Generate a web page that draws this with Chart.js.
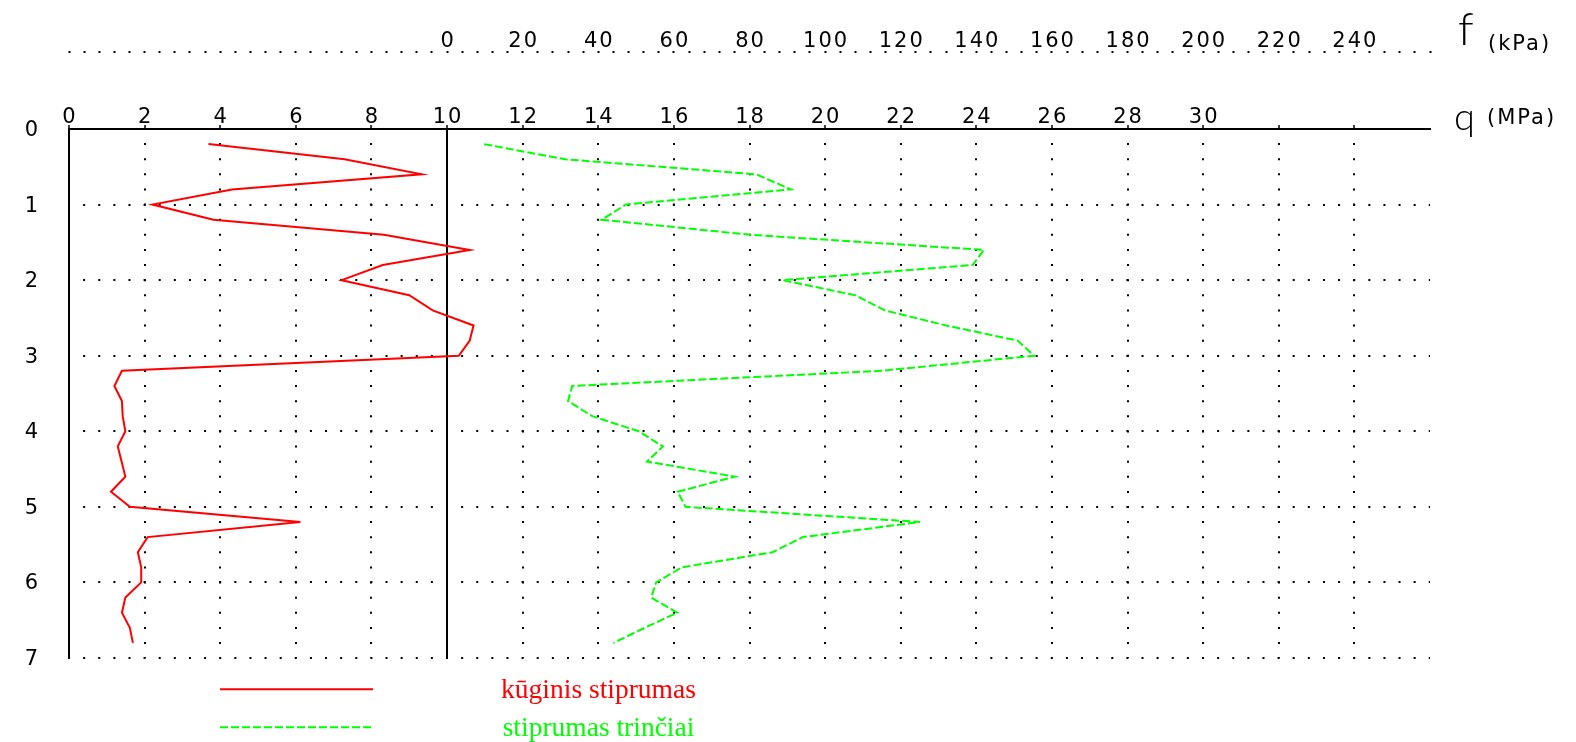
<!DOCTYPE html>
<html>
<head>
<meta charset="utf-8">
<script src="https://cdn.jsdelivr.net/npm/chart.js@4.4.1/dist/chart.umd.min.js"></script>
<style>
  html, body { margin: 0; padding: 0; background: #ffffff; }
  canvas { display: block; }
</style>
</head>
<body>
<canvas id="profile" width="1576" height="742"></canvas>
<script>
// Sounding depth, m (one reading every 0.2 m)
const depths = [0.2, 0.4, 0.6, 0.8, 1.0, 1.2, 1.4, 1.6, 1.8, 2.0, 2.2, 2.4, 2.6, 2.8, 3.0, 3.2, 3.4,
                3.6, 3.8, 4.0, 4.2, 4.4, 4.6, 4.8, 5.0, 5.2, 5.4, 5.6, 5.8, 6.0, 6.2, 6.4, 6.6, 6.8];

// Cone resistance q, MPa
const coneResistance = [3.69, 7.29, 9.33, 4.31, 2.21, 3.82, 8.33, 10.6, 8.30, 7.21, 9.0, 9.62, 10.7, 10.6,
                        10.31, 1.40, 1.20, 1.40, 1.42, 1.49, 1.29, 1.39, 1.49, 1.11, 1.61, 6.12, 2.08,
                        1.82, 1.91, 1.91, 1.49, 1.40, 1.61, 1.69];

// Sleeve friction f, kPa
const sleeveFriction = [9.8, 31.2, 81.8, 91.0, 47.3, 40.9, 80.2, 142.0, 139.0, 88.8, 108.0, 115.8, 132.0,
                        150.9, 155.3, 114.7, 33.1, 32.0, 38.4, 50.7, 57.1, 52.9, 76.1, 61.0, 63.1, 125.1,
                        94.1, 86.1, 62.1, 55.3, 54.0, 60.9, 52.3, 44.0];

// Labelled ticks
const depthLabels = [0, 1, 2, 3, 4, 5, 6, 7];
const qLabels = [0, 2, 4, 6, 8, 10, 12, 14, 16, 18, 20, 22, 24, 26, 28, 30];
const fLabels = [0, 20, 40, 60, 80, 100, 120, 140, 160, 180, 200, 220, 240];

const seriesNames = ['kūginis stiprumas', 'stiprumas trinčiai'];
const axisNames = { f: ['f', '(kPa)'], q: ['q', '(MPa)'] };

const DOTS = [2, 13.12];
const tickFont = { family: "'DejaVu Sans', sans-serif", size: 21, lineHeight: 1 };
const NONE = 'rgba(0,0,0,0)';

const axisNamesAndKey = {
  id: 'axisNamesAndKey',
  beforeDraw(chart) {
    chart.ctx.letterSpacing = '2px';
  },
  afterDraw(chart) {
    const ctx = chart.ctx;
    ctx.save();
    ctx.textBaseline = 'alphabetic';
    ctx.textAlign = 'left';
    ctx.fillStyle = '#000';

    // Axis names to the right of each tick row
    ctx.letterSpacing = '0px';
    ctx.font = "300 46px Lato, 'DejaVu Sans', sans-serif";
    ctx.fillText(axisNames.f[0], 1458, 45);
    ctx.font = "300 38px Lato, 'DejaVu Sans', sans-serif";
    ctx.fillText(axisNames.q[0], 1454, 130);
    ctx.letterSpacing = '2px';
    ctx.font = "21px 'DejaVu Sans', sans-serif";
    ctx.fillText(axisNames.f[1], 1488, 50);
    ctx.fillText(axisNames.q[1], 1487, 124);

    // Key: sample line on the left, series name centred on the right
    ctx.letterSpacing = '0px';
    const rows = [689.3, 727.3];
    chart.data.datasets.forEach((ds, i) => {
      ctx.save();
      ctx.strokeStyle = ds.borderColor;
      ctx.lineWidth = 2;
      ctx.setLineDash(ds.borderDash || []);
      ctx.beginPath();
      ctx.moveTo(220, rows[i]);
      ctx.lineTo(373, rows[i]);
      ctx.stroke();
      ctx.restore();

      ctx.fillStyle = ds.borderColor;
      ctx.font = "27.5px 'Liberation Serif', 'Times New Roman', serif";
      ctx.textAlign = 'center';
      ctx.textBaseline = 'middle';
      ctx.fillText(ds.label, 598.5, rows[i] + 1);
    });
    ctx.restore();
  }
};

new Chart(document.getElementById('profile'), {
  type: 'scatter',
  data: {
    datasets: [
      {
        label: seriesNames[0],
        data: depths.map((d, i) => ({ x: coneResistance[i], y: d })),
        xAxisID: 'q',
        yAxisID: 'y',
        showLine: true,
        borderColor: '#ff0000',
        borderWidth: 2,
        pointRadius: 0,
        tension: 0,
        fill: false
      },
      {
        label: seriesNames[1],
        data: depths.map((d, i) => ({ x: sleeveFriction[i], y: d })),
        xAxisID: 'f',
        yAxisID: 'y',
        showLine: true,
        borderColor: '#00ff00',
        borderWidth: 2,
        borderDash: [8, 3],
        pointRadius: 0,
        tension: 0,
        fill: false
      }
    ]
  },
  options: {
    responsive: false,
    animation: false,
    devicePixelRatio: 1,
    layout: { padding: { left: 0, top: 0, right: 146, bottom: 84 } },
    plugins: { legend: { display: false }, tooltip: { enabled: false } },
    scales: {
      y: {
        type: 'linear',
        position: 'left',
        reverse: true,
        min: 0,
        max: 7,
        afterFit: s => { s.width = 69; },
        ticks: {
          stepSize: 1,
          padding: 29,
          labelOffset: 1.5,
          color: '#000',
          font: tickFont,
          callback: v => depthLabels.includes(v) ? String(v) : ''
        },
        grid: {
          color: c => (c.tick && c.tick.value === 0) ? NONE : '#000',
          lineWidth: 2,
          drawTicks: false
        },
        border: { display: true, color: '#000', width: 2, dash: DOTS, dashOffset: 2 }
      },
      q: {
        type: 'linear',
        position: 'top',
        weight: 0,
        min: 0,
        max: 36,
        afterFit: s => { s.height = 76; },
        ticks: {
          stepSize: 2,
          autoSkip: false,
          maxRotation: 0,
          padding: -3,
          labelOffset: 1,
          color: '#000',
          font: tickFont,
          callback: v => qLabels.includes(v) ? String(v) : ''
        },
        grid: {
          color: c => (c.tick && c.tick.value === 36) ? NONE : '#000',
          lineWidth: 2,
          drawTicks: true,
          tickLength: 4,
          tickWidth: 1.5,
          tickBorderDash: []
        },
        border: {
          display: true,
          color: '#000',
          width: 2,
          dash: c => (c.tick && c.tick.value !== 0 && c.tick.value !== 10) ? DOTS : [],
          dashOffset: 2
        }
      },
      f: {
        type: 'linear',
        position: 'top',
        weight: 1,
        min: -100,
        max: 260,
        afterFit: s => { s.height = 53; },
        ticks: {
          stepSize: 4,
          autoSkip: false,
          maxRotation: 0,
          padding: -1.5,
          labelOffset: 1,
          color: '#000',
          font: tickFont,
          callback: v => fLabels.includes(v) ? String(v) : ''
        },
        grid: {
          drawOnChartArea: false,
          drawTicks: true,
          tickLength: 2,
          tickWidth: 2,
          color: '#000'
        },
        border: { display: false }
      }
    }
  },
  plugins: [axisNamesAndKey]
});
</script>
</body>
</html>
